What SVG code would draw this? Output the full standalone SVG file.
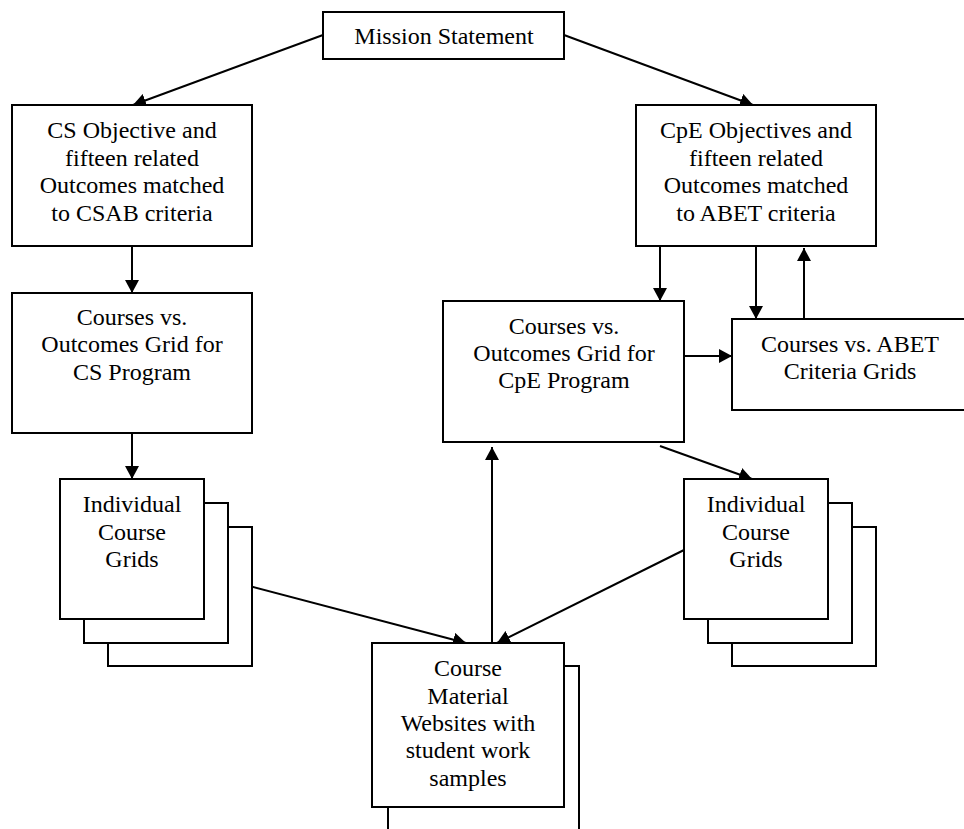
<svg xmlns="http://www.w3.org/2000/svg" width="964" height="829" viewBox="0 0 964 829">
<defs>
<marker id="ah" markerUnits="userSpaceOnUse" markerWidth="14" markerHeight="14" refX="13" refY="7" orient="auto">
<path d="M0,0 L13,7 L0,14 z" fill="#000"/>
</marker>
<style>
.box{fill:#fff;stroke:#000;stroke-width:2}
.t{font-family:"Liberation Serif","Times New Roman",serif;font-size:24px;fill:#000;text-anchor:middle}
.c{fill:none;stroke:#000;stroke-width:2;marker-end:url(#ah)}
.p{fill:none;stroke:#000;stroke-width:2}
</style>
</defs>
<rect width="964" height="829" fill="#fff"/>

<g id="connectors">
<path class="c" d="M323,35 L133,105"/>
<path class="c" d="M564,35 L753,105"/>
<path class="c" d="M132,246 L132,293"/>
<path class="c" d="M132,433 L132,479"/>
<path class="c" d="M660,246 L660,301"/>
<path class="c" d="M756,246 L756,319"/>
<path class="c" d="M804,319 L804,248"/>
<path class="c" d="M684,356 L732,356"/>
<path class="c" d="M660,446 L752,479"/>
<path class="c" d="M204,574 L466,643"/>
<path class="c" d="M684,550 L497,643"/>
<path class="c" d="M492,643 L492,447"/>
</g>

<g id="mission">
<rect class="box" x="323" y="12" width="241" height="47"/>
<text class="t" x="444" y="44">Mission Statement</text>
</g>

<g id="cs-objectives">
<rect class="box" x="12" y="105" width="240" height="141"/>
<text class="t" x="132" y="138">CS Objective and</text>
<text class="t" x="132" y="166">fifteen related</text>
<text class="t" x="132" y="193">Outcomes matched</text>
<text class="t" x="132" y="221">to CSAB criteria</text>
</g>

<g id="cpe-objectives">
<rect class="box" x="636" y="105" width="240" height="141"/>
<text class="t" x="756" y="138">CpE Objectives and</text>
<text class="t" x="756" y="166">fifteen related</text>
<text class="t" x="756" y="193">Outcomes matched</text>
<text class="t" x="756" y="221">to ABET criteria</text>
</g>

<g id="cs-grid">
<rect class="box" x="12" y="293" width="240" height="140"/>
<text class="t" x="132" y="325">Courses vs.</text>
<text class="t" x="132" y="352">Outcomes Grid for</text>
<text class="t" x="132" y="380">CS Program</text>
</g>

<g id="cpe-grid">
<rect class="box" x="443" y="301" width="241" height="141"/>
<text class="t" x="564" y="334">Courses vs.</text>
<text class="t" x="564" y="361">Outcomes Grid for</text>
<text class="t" x="564" y="388">CpE Program</text>
</g>

<g id="abet-grids">
<rect class="box" x="732" y="319" width="236" height="91"/>
<text class="t" x="850" y="352">Courses vs. ABET</text>
<text class="t" x="850" y="379">Criteria Grids</text>
</g>

<g id="cs-individual">
<rect class="box" x="108" y="527" width="144" height="139"/>
<rect class="box" x="84" y="503" width="144" height="140"/>
<rect class="box" x="60" y="479" width="144" height="140"/>
<text class="t" x="132" y="512">Individual</text>
<text class="t" x="132" y="540">Course</text>
<text class="t" x="132" y="567">Grids</text>
</g>

<g id="cpe-individual">
<rect class="box" x="732" y="527" width="144" height="139"/>
<rect class="box" x="708" y="503" width="144" height="140"/>
<rect class="box" x="684" y="479" width="144" height="140"/>
<text class="t" x="756" y="512">Individual</text>
<text class="t" x="756" y="540">Course</text>
<text class="t" x="756" y="567">Grids</text>
</g>

<g id="course-material">
<rect class="box" x="388" y="666" width="191" height="200"/>
<rect class="box" x="372" y="643" width="192" height="164"/>
<text class="t" x="468" y="676">Course</text>
<text class="t" x="468" y="704">Material</text>
<text class="t" x="468" y="731">Websites with</text>
<text class="t" x="468" y="758">student work</text>
<text class="t" x="468" y="786">samples</text>
</g>
</svg>
